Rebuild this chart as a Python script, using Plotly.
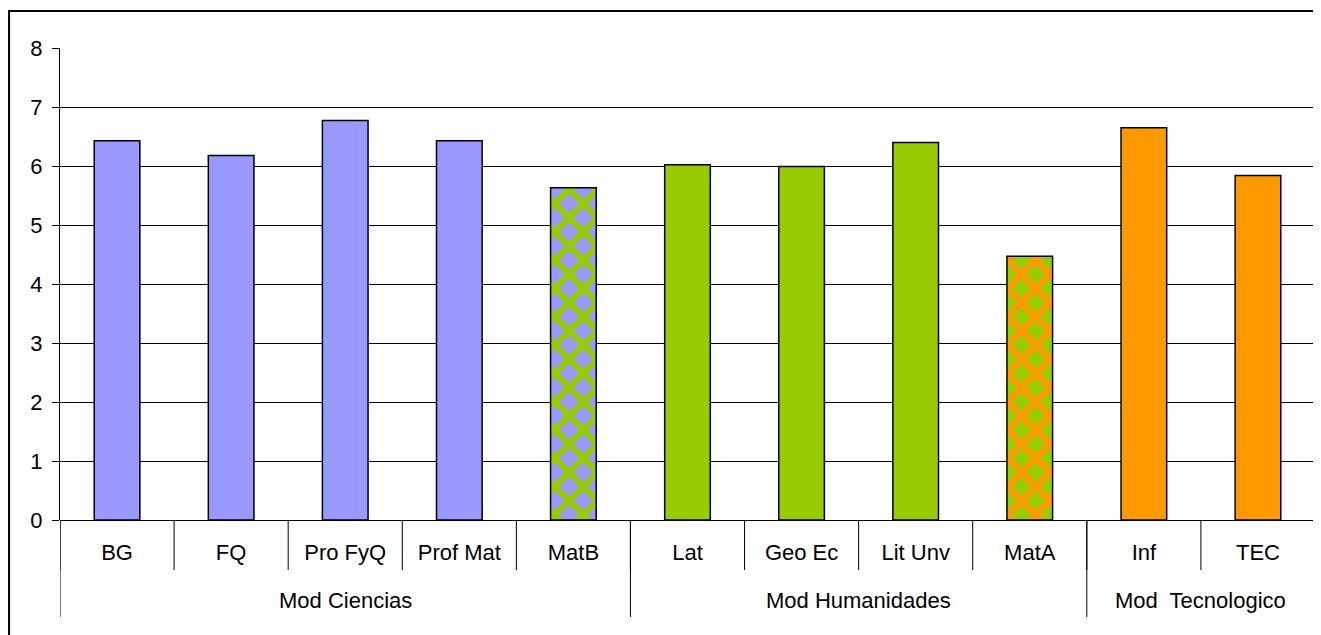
import plotly.graph_objects as go

# ---- data ----
categories = ["BG", "FQ", "Pro FyQ", "Prof Mat", "MatB", "Lat", "Geo Ec", "Lit Unv", "MatA", "Inf", "TEC"]
values = [6.43, 6.18, 6.77, 6.43, 5.63, 6.02, 5.99, 6.40, 4.47, 6.65, 5.84]
groups = ["Mod Ciencias"] * 5 + ["Mod Humanidades"] * 4 + ["Mod  Tecnologico"] * 2
y_ticks = [0, 1, 2, 3, 4, 5, 6, 7, 8]

# ---- styles ----
BLUE = "#9999FF"
GREEN = "#99CC00"
ORANGE = "#FF9900"
bar_colors = [BLUE, BLUE, BLUE, BLUE, BLUE, GREEN, GREEN, GREEN, GREEN, ORANGE, ORANGE]
pat_fg = [None, None, None, None, GREEN, None, None, None, ORANGE, None, None]
FONT = "Liberation Sans, Arial, sans-serif"
FS = 22

n = len(categories)
xs = list(range(n))

fig = go.Figure()
plain = [i for i in range(n) if pat_fg[i] is None]
fig.add_trace(go.Bar(
    x=[xs[i] for i in plain], y=[values[i] for i in plain], width=0.4,
    marker=dict(color=[bar_colors[i] for i in plain], line=dict(color="black", width=1.5)),
    hovertext=[categories[i] for i in plain], showlegend=False,
))
for i in range(n):
    if pat_fg[i] is None:
        continue
    fig.add_trace(go.Bar(
        x=[xs[i]], y=[values[i]], width=0.4,
        marker=dict(
            color=bar_colors[i],
            line=dict(color="black", width=1.5),
            pattern=dict(shape="x", fgcolor=pat_fg[i], bgcolor=bar_colors[i],
                         fgopacity=1, size=20, solidity=0.52),
        ),
        hovertext=[categories[i]], showlegend=False,
    ))

shapes = []
# category boundary ticks
for b in range(n + 1):
    shapes.append(dict(type="line", xref="x", yref="paper", x0=b - 0.5, x1=b - 0.5,
                       y0=0, y1=-0.106, line=dict(color="black", width=1)))
# group dividers
bounds = [0]
for i in range(1, n):
    if groups[i] != groups[i - 1]:
        bounds.append(i)
bounds.append(n)
for b in bounds:
    shapes.append(dict(type="line", xref="x", yref="paper", x0=b - 0.5, x1=b - 0.5,
                       y0=0, y1=-0.2055, line=dict(color="black", width=1)))
# outer border
shapes.append(dict(type="rect", xref="paper", yref="paper", x0=-0.0406, x1=1.02,
                   y0=-0.3, y1=1.0785, line=dict(color="black", width=2), fillcolor="rgba(0,0,0,0)"))

annotations = []
for j in range(len(bounds) - 1):
    a, b = bounds[j], bounds[j + 1]
    annotations.append(dict(x=(a + b - 1) / 2, y=-0.1716, xref="x", yref="paper",
                            text=groups[a], showarrow=False, yanchor="middle",
                            font=dict(family=FONT, size=FS, color="black")))

fig.update_layout(
    width=1313, height=627,
    margin=dict(l=52, r=6, t=40, b=115),
    paper_bgcolor="white", plot_bgcolor="white",
    font=dict(family=FONT, size=FS, color="black"),
    shapes=shapes, annotations=annotations,
    barmode="overlay",
)
fig.update_xaxes(
    range=[-0.5, n - 0.5], tickmode="array", tickvals=xs, ticktext=categories,
    ticks="", showgrid=False, zeroline=False, showline=False,
    ticklabelstandoff=17, tickfont=dict(family=FONT, size=FS, color="black"),
)
fig.update_yaxes(
    range=[0, 8], tickmode="array", tickvals=y_ticks,
    ticks="outside", ticklen=7, tickcolor="black",
    showgrid=True, gridcolor="black", gridwidth=1,
    zeroline=True, zerolinecolor="black", zerolinewidth=1,
    showline=True, linecolor="black", linewidth=1,
    ticklabelstandoff=5,
    tickfont=dict(family=FONT, size=FS, color="black"),
)

fig.write_html("out.html")
